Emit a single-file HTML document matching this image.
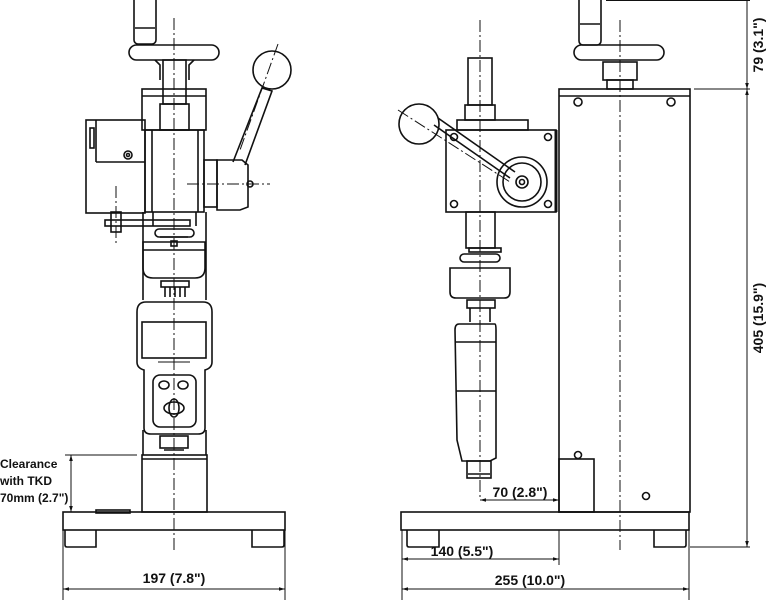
<!DOCTYPE html>
<html><head><meta charset="utf-8"><style>
html,body{margin:0;padding:0;background:#fff;}
svg{display:block;}
text{font-family:"Liberation Sans",sans-serif;font-weight:bold;fill:#111;}
</style></head><body>
<svg width="768" height="600" viewBox="0 0 768 600" xmlns="http://www.w3.org/2000/svg">
<defs>
<marker id="a" viewBox="0 0 10 10" refX="10" refY="5" markerWidth="6" markerHeight="6" orient="auto-start-reverse"><path d="M0,2 L10,5 L0,8 z" fill="#111"/></marker>
</defs>
<g fill="none" stroke="#111" stroke-width="1.6">
<!-- ===== LEFT VIEW ===== -->
<rect x="134" y="-4" width="22" height="48" rx="4"/>
<line x1="135" y1="28" x2="155" y2="28"/>
<rect x="129" y="45" width="90" height="15" rx="7.5"/>
<path d="M155,60 L160,65 L160,80 M194,60 L189,65 L189,80"/>
<rect x="163" y="60" width="23" height="44"/>
<rect x="142" y="89" width="64" height="41"/>
<line x1="142" y1="96" x2="206" y2="96"/>
<rect x="160" y="104" width="29" height="26"/>
<rect x="145" y="130" width="59" height="82"/>
<line x1="152" y1="130" x2="152" y2="212"/><line x1="198" y1="130" x2="198" y2="212"/>
<rect x="86" y="120" width="59" height="93"/>
<line x1="96" y1="162" x2="145" y2="162"/><line x1="96" y1="120" x2="96" y2="162"/>
<rect x="90" y="128" width="4" height="20"/>
<circle cx="128" cy="155" r="4"/><circle cx="128" cy="155" r="1.5"/>
<rect x="204" y="160" width="13" height="47"/>
<path d="M217,160 L242,160 L248,165 L248,207 L240,210 L217,210 z"/>
<circle cx="250" cy="184" r="3"/>
<path d="M233,162 L262,88 L272,91 L245,165"/>
<circle cx="272" cy="70" r="19"/>
<rect x="105" y="220" width="85" height="6"/>
<rect x="111" y="212" width="10" height="20"/>
<path d="M153,226 L153,212 M196,226 L196,212"/>
<rect x="155" y="229" width="39" height="8" rx="4"/>
<line x1="160" y1="237" x2="188" y2="237"/>
<path d="M143,242 L205,242 L205,268 Q205,278 195,278 L153,278 Q143,278 143,268 z"/>
<line x1="143" y1="250" x2="205" y2="250"/>
<rect x="171" y="241" width="6" height="5"/>
<rect x="161" y="281" width="28" height="6"/>
<path d="M165,287 L165,297 M170,287 L170,297 M175,287 L175,297 M180,287 L180,297 M185,287 L185,297"/>
<line x1="143" y1="212" x2="143" y2="300"/><line x1="206" y1="212" x2="206" y2="300"/>
<line x1="143" y1="430" x2="143" y2="455"/><line x1="206" y1="430" x2="206" y2="455"/>
<!-- gauge -->
<path d="M146,302 L203,302 Q212,302 212,312 L212,362 Q212,368 205,370 L205,428 Q205,434 198,434 L151,434 Q144,434 144,428 L144,370 Q137,368 137,362 L137,312 Q137,302 146,302 z"/>
<rect x="142" y="322" width="64" height="36"/>
<line x1="158" y1="362" x2="190" y2="362" stroke-width="1"/>
<rect x="153" y="375" width="43" height="52" rx="7"/>
<ellipse cx="164" cy="385" rx="5" ry="4"/><ellipse cx="183" cy="385" rx="5" ry="4"/>
<ellipse cx="174" cy="408" rx="10" ry="6"/><ellipse cx="174" cy="408" rx="5" ry="9"/>
<rect x="160" y="436" width="28" height="12"/>
<line x1="164" y1="450" x2="184" y2="450"/>
<rect x="142" y="455" width="65" height="57"/>
<line x1="142" y1="459" x2="207" y2="459"/>
<rect x="96" y="510" width="34" height="3"/>
<rect x="63" y="512" width="222" height="18"/>
<path d="M65,530 L65,545 Q65,547 67,547 L96,547 L96,530 M284,530 L284,545 Q284,547 282,547 L252,547 L252,530"/>
<!-- ===== RIGHT VIEW ===== -->
<rect x="579" y="-4" width="22" height="49" rx="4"/>
<line x1="580" y1="24" x2="600" y2="24"/>
<rect x="574" y="45" width="90" height="15" rx="7.5"/>
<rect x="603" y="62" width="34" height="18"/>
<rect x="607" y="80" width="26" height="9"/>
<rect x="559" y="89" width="131" height="423"/>
<line x1="559" y1="96" x2="690" y2="96"/>
<circle cx="578" cy="102" r="4"/><circle cx="671" cy="102" r="4"/>
<rect x="559" y="459" width="35" height="53"/>
<circle cx="578" cy="455" r="3.5"/><circle cx="646" cy="496" r="3.5"/>
<rect x="468" y="58" width="24" height="47"/>
<rect x="465" y="105" width="30" height="15"/>
<rect x="457" y="120" width="71" height="10"/>
<rect x="446" y="130" width="110" height="82"/>
<line x1="556" y1="130" x2="556" y2="212" stroke-width="3"/>
<circle cx="454" cy="137" r="3.5"/><circle cx="548" cy="137" r="3.5"/>
<circle cx="454" cy="204" r="3.5"/><circle cx="548" cy="204" r="3.5"/>
<circle cx="522" cy="182" r="25"/><circle cx="522" cy="182" r="19"/><circle cx="522" cy="182" r="6"/><circle cx="522" cy="182" r="2.5"/>
<path d="M434,125 L510,178 M438,118 L515,172"/>
<circle cx="419" cy="124" r="20"/>
<rect x="466" y="212" width="29" height="36"/>
<rect x="469" y="248" width="32" height="4"/>
<rect x="460" y="254" width="40" height="8" rx="4"/>
<path d="M450,268 L510,268 L510,292 Q510,298 504,298 L456,298 Q450,298 450,292 z"/>
<rect x="467" y="300" width="28" height="8"/>
<line x1="470" y1="308" x2="470" y2="322"/><line x1="490" y1="308" x2="490" y2="322"/>
<path d="M459,324 L495,324 Q496,324 496,330 L496,458 L490,461 L462,461 L457,440 L455,330 Q455,324 459,324 z"/>
<line x1="455" y1="342" x2="496" y2="342"/><line x1="456" y1="391" x2="496" y2="391"/>
<rect x="467" y="461" width="24" height="17"/>
<line x1="468" y1="474" x2="490" y2="474"/>
<rect x="401" y="512" width="288" height="18"/>
<path d="M407,530 L407,545 Q407,547 409,547 L439,547 L439,530 M686,530 L686,545 Q686,547 684,547 L654,547 L654,530"/>
</g>
<!-- centerlines -->
<g stroke="#111" stroke-width="1" stroke-dasharray="12,3,2,3" fill="none">
<line x1="174" y1="18" x2="174" y2="550"/>
<line x1="116" y1="186" x2="116" y2="246"/>
<line x1="187" y1="184" x2="270" y2="184"/>
<line x1="278" y1="44" x2="240" y2="150"/>
<line x1="480" y1="20" x2="480" y2="500"/>
<line x1="620" y1="20" x2="620" y2="550"/>
<line x1="398" y1="110" x2="510" y2="182"/>
</g>
<!-- dimensions -->
<g stroke="#111" stroke-width="1" fill="none">
<line x1="63" y1="530" x2="63" y2="600"/><line x1="285" y1="530" x2="285" y2="600"/>
<line x1="63" y1="589" x2="285" y2="589" marker-start="url(#a)" marker-end="url(#a)"/>
<line x1="65" y1="455" x2="137" y2="455"/>
<line x1="71" y1="455" x2="71" y2="512" marker-start="url(#a)" marker-end="url(#a)"/>
<line x1="402" y1="530" x2="402" y2="600"/><line x1="559" y1="530" x2="559" y2="565"/><line x1="689" y1="530" x2="689" y2="600"/>
<line x1="402" y1="559" x2="559" y2="559" marker-start="url(#a)" marker-end="url(#a)"/>
<line x1="402" y1="589" x2="689" y2="589" marker-start="url(#a)" marker-end="url(#a)"/>
<line x1="480" y1="500" x2="559" y2="500" marker-start="url(#a)" marker-end="url(#a)"/>
<line x1="606" y1="0.5" x2="750" y2="0.5"/><line x1="694" y1="89" x2="750" y2="89"/><line x1="690" y1="547" x2="750" y2="547"/>
<line x1="747" y1="0" x2="747" y2="89" marker-end="url(#a)"/>
<line x1="747" y1="89" x2="747" y2="547" marker-start="url(#a)" marker-end="url(#a)"/>
</g>
<text x="174" y="583" font-size="14" text-anchor="middle">197 (7.8")</text>
<text x="0" y="468" font-size="12">Clearance</text>
<text x="0" y="485" font-size="12">with TKD</text>
<text x="0" y="502" font-size="12">70mm (2.7")</text>
<text x="520" y="497" font-size="14" text-anchor="middle">70 (2.8")</text>
<text x="462" y="556" font-size="14" text-anchor="middle">140 (5.5")</text>
<text x="530" y="585" font-size="14" text-anchor="middle">255 (10.0")</text>
<text transform="translate(763,45) rotate(-90)" font-size="14" text-anchor="middle">79 (3.1")</text>
<text transform="translate(763,318) rotate(-90)" font-size="14" text-anchor="middle">405 (15.9")</text>
</svg>
</body></html>
